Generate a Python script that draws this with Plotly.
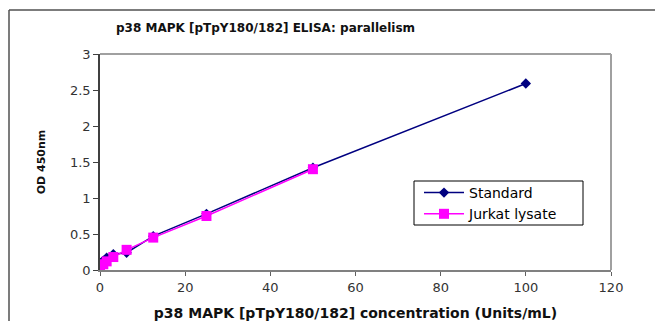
import plotly.graph_objects as go

std_x = [100, 50, 25, 12.5, 6.25, 3.125, 1.5625, 0.78, 0.39, 0]
std_y = [2.59, 1.42, 0.78, 0.47, 0.24, 0.22, 0.17, 0.13, 0.11, 0.09]
jur_x = [50, 25, 12.5, 6.25, 3.125, 1.5625, 0.78, 0]
jur_y = [1.40, 0.75, 0.45, 0.28, 0.18, 0.12, 0.08, 0.05]

x_ticks = [0, 20, 40, 60, 80, 100, 120]
y_ticks = [0, 0.5, 1, 1.5, 2, 2.5, 3]
y_labels = ["0", "0.5", "1", "1.5", "2", "2.5", "3"]

title = "p38 MAPK [pTpY180/182] ELISA: parallelism"
x_title = "p38 MAPK [pTpY180/182] concentration (Units/mL)"
y_title = "OD 450nm"

fig = go.Figure()
fig.add_trace(go.Scatter(x=std_x, y=std_y, mode="lines+markers", name="Standard",
                         line=dict(color="#000080", width=1.5),
                         marker=dict(symbol="diamond", size=8, color="#000080")))
fig.add_trace(go.Scatter(x=jur_x, y=jur_y, mode="lines+markers", name="Jurkat lysate",
                         line=dict(color="#FF00FF", width=1.5),
                         marker=dict(symbol="square", size=10, color="#FF00FF")))

OFF = 8  # default page margin of the browser body
W, H = 663 - OFF, 321 - OFF
L, R, T, B = 100 - OFF, 52, 54 - OFF, 51
pw, ph = W - L - R, H - T - B

def px_x(p):
    return (p - OFF - L) / pw

def px_y(p):
    return (H - B - (p - OFF)) / ph

fig.update_layout(
    width=W, height=H,
    margin=dict(l=L, r=R, t=T, b=B, autoexpand=False),
    paper_bgcolor="white", plot_bgcolor="white",
    font=dict(family="DejaVu Sans", size=13, color="#333333"),
    showlegend=True,
    legend=dict(x=px_x(419), y=px_y(177), xanchor="left", yanchor="top",
                borderwidth=0, bgcolor="rgba(0,0,0,0)", itemwidth=40,
                tracegroupgap=0,
                font=dict(family="DejaVu Sans", size=14, color="#000000")),
    xaxis=dict(range=[0, 120], tickvals=x_ticks, showgrid=False, zeroline=False,
               showline=True, linecolor="#808080", linewidth=2,
               ticks="outside", ticklen=4, tickcolor="#606060",
               title=dict(text="<b>" + x_title + "</b>",
                          font=dict(family="DejaVu Sans", size=14, color="#111111"),
                          standoff=16)),
    yaxis=dict(range=[0, 3], tickvals=y_ticks, ticktext=y_labels, showgrid=False,
               zeroline=False, showline=True, linecolor="#404040", linewidth=1.5,
               ticks="outside", ticklen=5, tickcolor="#404040",
               title=dict(text="<b>" + y_title + "</b>",
                          font=dict(family="DejaVu Sans", size=11, color="#111111"),
                          standoff=22)),
    annotations=[dict(text="<b>" + title + "</b>", xref="paper", yref="paper",
                      x=px_x(265), y=px_y(28), xanchor="center", yanchor="middle",
                      showarrow=False,
                      font=dict(family="DejaVu Sans", size=12, color="#111111"))],
    shapes=[
        dict(type="line", xref="paper", yref="paper", x0=0, x1=1, y0=1, y1=1,
             line=dict(color="#A0A0A0", width=2)),
        dict(type="line", xref="paper", yref="paper", x0=1, x1=1, y0=0, y1=1,
             line=dict(color="#A0A0A0", width=2)),
        dict(type="line", xref="paper", yref="paper", x0=px_x(9), x1=px_x(9),
             y0=px_y(330), y1=px_y(10), line=dict(color="#505050", width=1.5)),
        dict(type="line", xref="paper", yref="paper", x0=px_x(9), x1=px_x(670),
             y0=px_y(10), y1=px_y(10), line=dict(color="#505050", width=1.5)),
        dict(type="rect", xref="paper", yref="paper", x0=px_x(414), x1=px_x(583),
             y0=px_y(225), y1=px_y(181), fillcolor="white", layer="above",
             line=dict(color="#000000", width=1)),
    ],
)

fig.write_html("out.html")
